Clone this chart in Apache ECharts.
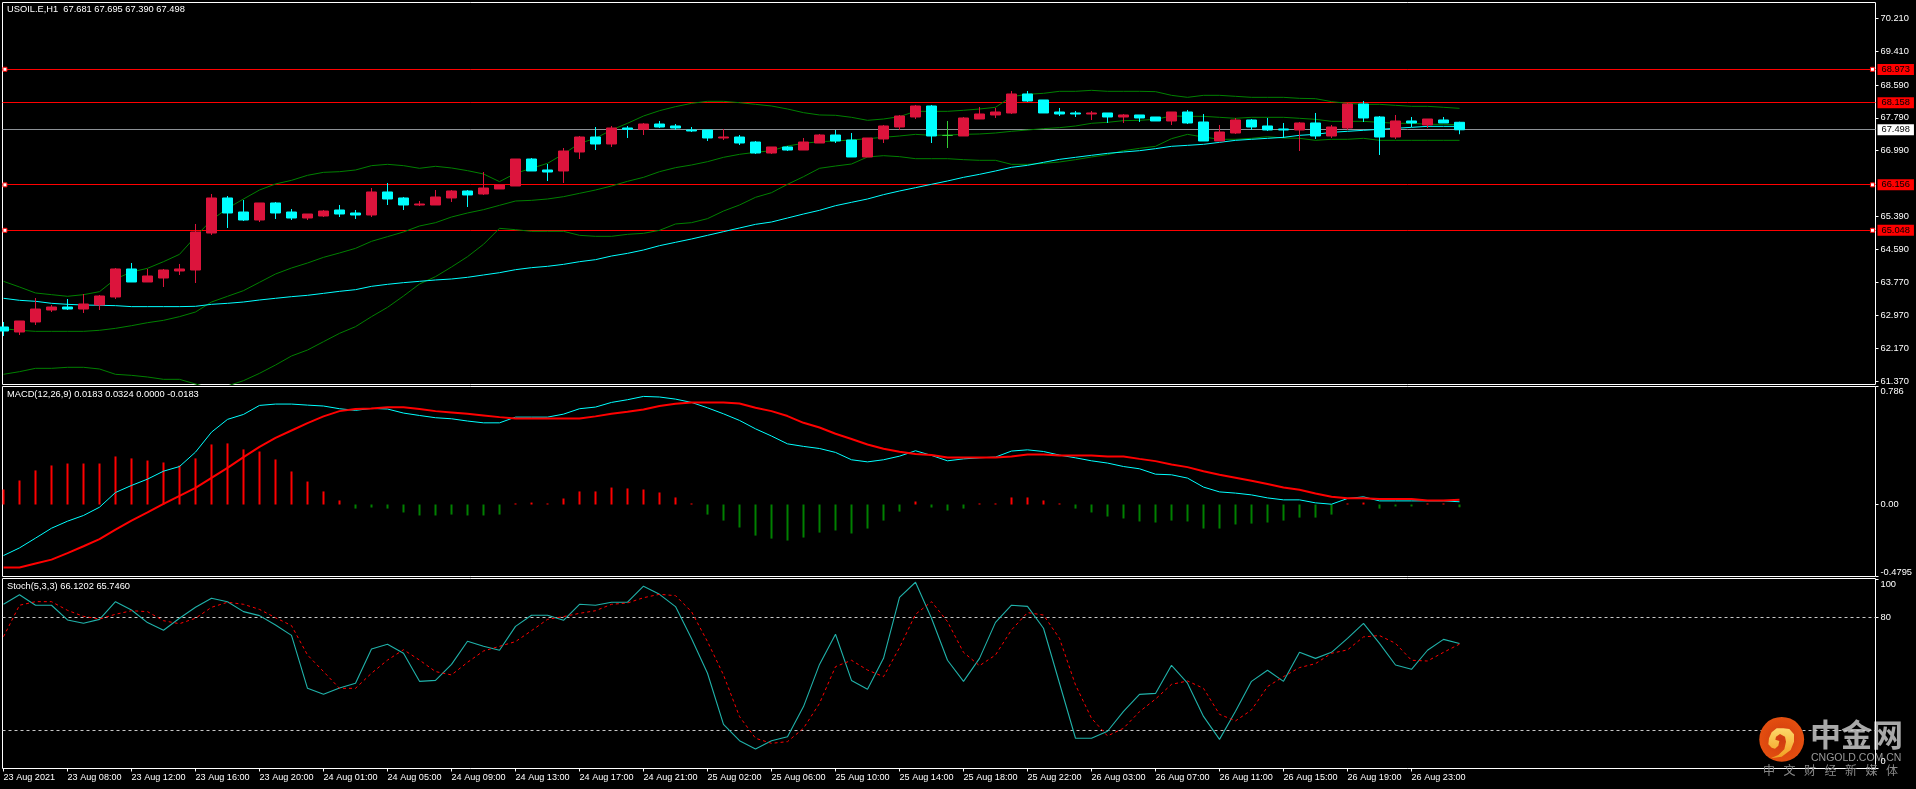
<!DOCTYPE html>
<html>
<head>
<meta charset="utf-8">
<title>USOIL.E H1</title>
<style>
  html, body { margin: 0; padding: 0; background: #000; }
  #chart { width: 1916px; height: 789px; }
</style>
<script src="https://cdn.jsdelivr.net/npm/echarts@6/dist/echarts.min.js"></script>
</head>
<body>
<div id="chart"></div>
<script>
// Hourly USOIL candles, one row of ten values per source line
var opens = [
  62.691,62.569,62.813,63.105,63.178,63.129,63.227,63.422,64.105,63.788,
  63.885,64.056,64.080,64.982,65.836,65.494,65.299,65.714,65.494,65.348,
  65.397,65.543,65.470,65.421,65.982,65.836,65.665,65.665,65.836,66.006,
  65.933,66.055,66.128,66.786,66.518,66.494,66.957,67.322,67.152,67.542,
  67.510,67.639,67.591,67.493,67.493,67.298,67.322,67.200,66.932,67.079,
  67.005,67.176,67.371,67.249,66.835,67.274,67.566,67.810,68.078,67.360,
  67.347,67.761,67.859,67.908,68.371,68.225,67.932,67.908,67.883,67.908,
  67.810,67.859,67.810,67.713,67.932,67.688,67.225,67.420,67.737,67.591,
  67.518,67.493,67.664,67.347,67.542,68.127,67.810,67.322,67.713,67.615,
  67.737,67.681];
var closes = [
  62.593,62.837,63.129,63.178,63.129,63.251,63.446,64.105,63.788,63.934,
  64.080,64.105,65.007,65.836,65.470,65.299,65.714,65.470,65.348,65.445,
  65.518,65.445,65.421,65.982,65.811,65.665,65.689,65.860,66.006,65.909,
  66.079,66.152,66.786,66.494,66.469,66.981,67.322,67.152,67.542,67.510,
  67.639,67.566,67.542,67.469,67.298,67.322,67.176,66.932,67.079,67.005,
  67.200,67.371,67.225,66.835,67.298,67.591,67.834,68.078,67.347,67.360,
  67.786,67.883,67.932,68.371,68.200,67.908,67.883,67.883,67.908,67.810,
  67.859,67.786,67.713,67.932,67.664,67.225,67.444,67.737,67.566,67.493,
  67.493,67.664,67.347,67.566,68.127,67.786,67.322,67.713,67.664,67.761,
  67.664,67.498];
var highs = [
  62.813,62.837,63.398,63.227,63.373,63.495,63.471,64.129,64.251,64.105,
  64.105,64.227,65.202,65.933,65.884,65.787,65.714,65.738,65.567,65.445,
  65.543,65.665,65.543,66.079,66.201,65.860,65.762,66.030,66.030,66.030,
  66.469,66.152,66.786,66.810,66.664,67.054,67.347,67.566,67.591,67.591,
  67.664,67.713,67.639,67.566,67.493,67.518,67.371,67.225,67.079,67.103,
  67.298,67.396,67.493,67.420,67.298,67.615,67.859,68.103,68.103,67.713,
  67.810,68.054,68.030,68.444,68.444,68.225,68.030,67.956,67.956,67.908,
  67.883,67.859,67.810,67.932,67.981,67.883,67.615,67.786,67.761,67.786,
  67.664,67.688,67.908,67.615,68.152,68.200,67.834,67.859,67.810,67.761,
  67.810,67.695];
var lows = [
  62.471,62.496,62.740,63.056,63.105,63.032,63.105,63.373,63.788,63.788,
  63.666,63.958,63.763,64.934,65.104,65.275,65.250,65.324,65.299,65.299,
  65.372,65.372,65.324,65.372,65.665,65.543,65.640,65.665,65.738,65.616,
  65.909,66.055,66.128,66.494,66.250,66.201,66.786,67.005,67.079,67.298,
  67.371,67.542,67.493,67.444,67.225,67.249,67.127,66.908,66.908,66.981,
  67.005,67.176,67.176,66.835,66.835,67.176,67.493,67.761,67.176,67.054,
  67.347,67.761,67.786,67.883,68.176,67.908,67.834,67.810,67.737,67.664,
  67.664,67.688,67.713,67.615,67.639,67.225,67.225,67.396,67.493,67.469,
  67.298,66.981,67.274,67.298,67.493,67.688,66.884,67.274,67.566,67.542,
  67.664,67.390];

// Bollinger bands and moving average on the price panel
var bandUpper = [
  63.804,63.666,63.520,63.479,63.439,63.479,63.552,63.861,64.032,64.121,
  64.283,64.462,64.893,65.299,65.584,65.811,66.030,66.177,66.266,66.388,
  66.461,66.477,66.518,66.624,66.656,66.624,66.559,66.608,66.567,66.502,
  66.421,66.234,66.437,66.559,66.680,66.908,67.168,67.290,67.493,67.656,
  67.834,67.964,68.062,68.143,68.192,68.192,68.159,68.119,68.078,68.005,
  67.916,67.859,67.851,67.802,67.729,67.761,67.818,67.948,67.948,67.948,
  67.973,68.005,68.046,68.306,68.363,68.387,68.436,68.436,68.460,68.436,
  68.436,68.436,68.428,68.338,68.289,68.338,68.338,68.314,68.289,68.289,
  68.289,68.265,68.257,68.184,68.143,68.119,68.119,68.094,68.070,68.070,
  68.046,68.021];
var bandMiddle = [
  62.650,62.610,62.585,62.585,62.585,62.585,62.610,62.658,62.723,62.796,
  62.853,62.943,63.056,63.300,63.439,63.577,63.780,63.983,64.129,64.251,
  64.389,64.495,64.608,64.779,64.893,65.007,65.153,65.234,65.372,65.470,
  65.551,65.657,65.762,65.778,65.811,65.868,65.949,66.030,66.128,66.242,
  66.339,66.477,66.575,66.640,66.721,66.827,66.900,66.949,66.989,67.103,
  67.168,67.209,67.225,67.249,67.282,67.314,67.347,67.387,67.363,67.371,
  67.387,67.396,67.420,67.461,67.493,67.526,67.550,67.591,67.656,67.680,
  67.721,67.729,67.753,67.834,67.826,67.826,67.802,67.778,67.802,67.802,
  67.802,67.778,67.753,67.704,67.704,67.704,67.680,67.656,67.656,67.631,
  67.631,67.623];
var bandLower = [
  61.537,61.602,61.683,61.683,61.708,61.708,61.667,61.537,61.512,61.472,
  61.415,61.415,61.301,61.196,61.253,61.383,61.561,61.764,61.984,62.130,
  62.333,62.536,62.699,62.943,63.170,63.446,63.739,63.918,64.154,64.405,
  64.706,65.096,65.063,65.023,65.023,65.023,64.925,64.901,64.901,64.950,
  64.974,65.047,65.202,65.234,65.332,65.518,65.665,65.852,65.965,66.169,
  66.355,66.559,66.615,66.664,66.835,66.867,66.843,66.794,66.794,66.794,
  66.770,66.754,66.754,66.656,66.656,66.680,66.713,66.770,66.835,66.892,
  66.989,67.046,67.095,67.282,67.387,67.322,67.266,67.266,67.290,67.331,
  67.298,67.290,67.241,67.266,67.266,67.290,67.241,67.241,67.241,67.241,
  67.241,67.241];
var movingAverage = [
  63.390,63.341,63.317,63.268,63.243,63.227,63.219,63.211,63.187,63.187,
  63.187,63.187,63.195,63.243,63.268,63.300,63.349,63.390,63.430,63.463,
  63.511,63.560,63.601,63.682,63.731,63.772,63.804,63.837,63.861,63.902,
  63.959,64.015,64.088,64.137,64.170,64.218,64.283,64.332,64.421,64.486,
  64.568,64.673,64.755,64.836,64.925,65.015,65.104,65.193,65.250,65.348,
  65.445,65.535,65.648,65.730,65.811,65.917,66.006,66.087,66.169,66.250,
  66.339,66.412,66.494,66.583,66.632,66.705,66.778,66.827,66.876,66.924,
  66.957,66.989,67.038,67.095,67.119,67.144,67.192,67.241,67.266,67.290,
  67.314,67.363,67.387,67.436,67.461,67.485,67.510,67.534,67.558,67.582,
  67.582,67.582];

// MACD(12,26,9)
var macdMain = [
  -0.340,-0.289,-0.224,-0.158,-0.111,-0.073,-0.018,0.080,0.127,0.169,
  0.222,0.253,0.349,0.482,0.567,0.600,0.660,0.669,0.669,0.662,
  0.656,0.638,0.627,0.640,0.636,0.609,0.593,0.578,0.571,0.556,
  0.544,0.544,0.582,0.582,0.582,0.602,0.638,0.649,0.680,0.698,
  0.720,0.716,0.702,0.680,0.644,0.604,0.560,0.504,0.456,0.404,
  0.387,0.373,0.347,0.298,0.284,0.298,0.322,0.358,0.327,0.291,
  0.304,0.311,0.316,0.356,0.364,0.353,0.329,0.311,0.291,0.276,
  0.253,0.238,0.202,0.198,0.176,0.116,0.084,0.076,0.064,0.044,
  0.031,0.031,0.011,0.002,0.040,0.051,0.024,0.024,0.024,0.024,
  0.024,0.0183];
var macdSignal = [
  -0.420,-0.420,-0.393,-0.367,-0.324,-0.278,-0.231,-0.167,-0.107,-0.053,
  0.004,0.058,0.111,0.178,0.244,0.316,0.384,0.444,0.493,0.542,
  0.587,0.622,0.636,0.640,0.647,0.647,0.636,0.622,0.613,0.604,
  0.593,0.582,0.573,0.573,0.573,0.573,0.573,0.587,0.604,0.618,
  0.633,0.656,0.671,0.680,0.680,0.680,0.673,0.644,0.622,0.589,
  0.544,0.513,0.471,0.436,0.400,0.371,0.351,0.336,0.329,0.313,
  0.313,0.313,0.313,0.320,0.333,0.333,0.327,0.327,0.327,0.320,
  0.320,0.304,0.289,0.267,0.249,0.222,0.198,0.178,0.158,0.136,
  0.113,0.098,0.073,0.051,0.042,0.042,0.036,0.036,0.036,0.027,
  0.027,0.0324];
var macdHistogram = [
  0.100,0.160,0.227,0.260,0.273,0.273,0.273,0.320,0.307,0.293,
  0.280,0.260,0.307,0.400,0.407,0.367,0.353,0.300,0.220,0.153,
  0.087,0.027,-0.027,-0.020,-0.027,-0.053,-0.073,-0.073,-0.067,-0.073,
  -0.073,-0.067,0.007,0.013,0.007,0.040,0.087,0.087,0.113,0.107,
  0.100,0.080,0.047,0.007,-0.067,-0.107,-0.153,-0.207,-0.227,-0.240,
  -0.220,-0.187,-0.173,-0.193,-0.160,-0.107,-0.047,0.020,-0.020,-0.040,
  -0.027,0.007,0.007,0.047,0.047,0.027,0.007,-0.027,-0.053,-0.080,
  -0.093,-0.113,-0.120,-0.107,-0.113,-0.160,-0.160,-0.133,-0.127,-0.120,
  -0.107,-0.087,-0.087,-0.067,0.007,0.013,-0.027,-0.013,-0.013,0.007,
  0.007,-0.0183];

// Stochastic(5,3,3)
var stochMain = [
  86.9,92.0,86.4,86.4,78.6,76.8,78.9,88.3,83.9,77.2,
  73.1,79.5,85.3,90.1,88.3,83.0,80.9,75.9,70.4,42.3,
  39.1,42.5,45.0,63.2,65.7,60.9,46.0,46.5,55.0,67.3,
  64.6,62.5,75.2,81.1,81.1,78.4,86.9,86.4,88.0,88.0,
  96.5,92.2,85.7,68.8,50.3,23.2,14.5,10.1,14.5,16.6,
  32.6,55.0,71.0,46.5,41.8,58.2,90.6,98.6,79.5,57.2,
  46.0,58.2,77.3,86.4,85.8,74.2,45.0,15.8,15.8,19.5,
  30.1,39.1,39.6,54.5,45.0,27.4,15.2,30.1,46.0,51.9,
  46.0,61.4,58.2,61.4,68.8,76.8,66.2,54.7,52.4,62.5,
  68.3,66.1202];
var stochSignal = [
  69.7,86.4,88.3,88.3,83.7,80.5,79.1,81.6,83.5,83.0,
  78.2,76.6,79.5,85.3,88.0,86.9,84.2,79.8,75.6,60.0,
  51.2,42.3,42.3,50.3,57.3,62.8,57.3,51.2,49.4,56.1,
  62.1,64.6,67.1,72.9,78.9,80.4,82.1,83.5,86.9,87.6,
  90.4,92.2,91.5,83.0,67.1,49.4,27.3,15.8,13.1,14.0,
  21.1,34.3,53.8,57.2,52.0,48.5,63.9,81.6,88.3,77.7,
  61.4,54.3,60.0,73.3,82.5,81.2,68.8,44.1,26.4,17.0,
  21.1,29.9,36.6,44.4,46.2,42.3,28.5,25.0,30.8,43.2,
  48.5,53.3,55.4,60.9,62.7,69.6,70.3,66.2,57.2,56.8,
  61.4,65.746];

// Axis ticks and labels
var timeLabels = ['23 Aug 2021','23 Aug 08:00','23 Aug 12:00','23 Aug 16:00','23 Aug 20:00',
  '24 Aug 01:00','24 Aug 05:00','24 Aug 09:00','24 Aug 13:00','24 Aug 17:00','24 Aug 21:00',
  '25 Aug 02:00','25 Aug 06:00','25 Aug 10:00','25 Aug 14:00','25 Aug 18:00','25 Aug 22:00',
  '26 Aug 03:00','26 Aug 07:00','26 Aug 11:00','26 Aug 15:00','26 Aug 19:00','26 Aug 23:00'];
var timeLabelStep = 4;
var priceTicks = [70.21,69.41,68.59,67.79,66.99,65.39,64.59,63.77,62.97,62.17,61.37];
var macdTicks = [-0.4795,0,0.786];
var macdTickLabels = ['-0.4795','0.00','0.786'];
var stochTicks = [0,80,100];

// Horizontal levels; the last one follows the current bid
var selectedLevels = [68.973,66.156,65.048];
var plainLevels = [68.158];
var bidLevel = 67.498;
var stochLevels = [80,20];

var FONT = '"Liberation Sans", Arial, sans-serif';
var FONT_SIZE = 9.3;
var TIME_FONT_SIZE = 9.1;
var XMIN = -0.0625, XMAX = 117;
var UP = '#DC143C', DOWN = '#00FFFF', DOJI = '#32CD32', BAND = '#008000', RED = '#FF0000';

function pairs(values) { return values.map(function (v, i) { return [i, v]; }); }

var candleData = opens.map(function (o, i) {
  var item = { value: [i, o, closes[i], lows[i], highs[i]] };
  if (o === closes[i]) {
    item.itemStyle = { color: DOJI, color0: DOJI, borderColor: DOJI, borderColor0: DOJI, borderColorDoji: DOJI };
  }
  return item;
});

var timeTicks = timeLabels.map(function (_, i) { return i * timeLabelStep; });

function hiddenX(gridIndex) {
  return { type: 'value', gridIndex: gridIndex, min: XMIN, max: XMAX, show: false, splitLine: { show: false },
    axisLine: { onZero: false } };
}
function rightAxis(gridIndex, min, max, ticks, formatter, extraLabel) {
  return {
    type: 'value', gridIndex: gridIndex, position: 'right', min: min, max: max, scale: true,
    splitLine: { show: false },
    axisLine: { show: false, onZero: false },
    axisTick: { show: true, length: 3, customValues: ticks, lineStyle: { color: '#fff', width: 1 } },
    axisLabel: Object.assign({
      show: true, customValues: ticks, inside: false, margin: 5, color: '#fff',
      fontFamily: FONT, fontSize: FONT_SIZE, formatter: formatter, hideOverlap: false
    }, extraLabel || {})
  };
}
function levelLine(value, color, labelBg, labelColor) {
  return {
    yAxis: value,
    lineStyle: { color: color, width: 1, type: 'solid' },
    label: {
      show: true, position: 'end', distance: 2, formatter: value.toFixed(3),
      color: labelColor, backgroundColor: labelBg, padding: [1, 4, 1, 4], lineHeight: 9,
      fontFamily: FONT, fontSize: FONT_SIZE
    }
  };
}
function thinLine(name, values, color, width, xIdx, yIdx, dash, z) {
  return {
    name: name, type: 'line', xAxisIndex: xIdx, yAxisIndex: yIdx, data: pairs(values),
    symbol: 'none', silent: true, animation: false, z: z,
    lineStyle: { color: color, width: width, type: dash || 'solid' }
  };
}

var panelTexts = [
  { text: 'USOIL.E,H1  67.681 67.695 67.390 67.498', y: 5 },
  { text: 'MACD(12,26,9) 0.0183 0.0324 0.0000 -0.0183', y: 390 },
  { text: 'Stoch(5,3,3) 66.1202 65.7460', y: 582 }
];

// Brand swirl outline, placed inside the disc
var swirlOutline = [[57,100],[65,82],[80,70],[100,70],[118,72],[132,88],[132,110],[122,135],[95,155],[62,160],
  [85,150],[103,133],[108,110],[105,95],[90,87],[78,95],[76,104],[88,108],[85,122],[75,131],[65,128],[55,118]];

var logo = [
  { type: 'circle', z: 20, shape: { cx: 1781.7, cy: 739.3, r: 22.4 },
    style: { fill: { type: 'radial', x: 0.5, y: 0.5, r: 0.6,
      colorStops: [{ offset: 0, color: '#cf3a10' }, { offset: 1, color: '#e8530f' }] } } },
  { type: 'polygon', z: 21,
    shape: { points: swirlOutline.map(function (p) { return [1750 + p[0] / 3, 705 + p[1] / 3]; }) },
    style: { fill: { type: 'linear', x: 0, y: 0, x2: 0, y2: 1,
      colorStops: [{ offset: 0, color: '#fcd86a' }, { offset: 0.6, color: '#f7b53d' }, { offset: 1, color: '#f0a020' }] } } },
  { type: 'text', z: -1, x: 1810, y: 719, style: { text: '中金网', fill: '#a9a9a9',
      font: 'bold 31px "Noto Sans CJK SC"' } },
  { type: 'text', z: -1, x: 1811, y: 752.5, style: { text: 'CNGOLD.COM.CN', fill: '#999999',
      font: '10.5px "Liberation Sans"' } }
].concat('中文财经新媒体'.split('').map(function (ch, i) {
  return { type: 'text', z: 20, x: 1763 + i * 20.5, y: 764.5,
    style: { text: ch, fill: '#8a8a8a', font: '12px "Noto Sans CJK SC"' } };
}));

var option = {
  animation: false,
  backgroundColor: '#000',
  graphic: panelTexts.map(function (t) {
    return { type: 'text', x: 7, y: t.y, z: 30,
      style: { text: t.text, fill: '#fff', font: FONT_SIZE + 'px ' + FONT } };
  }).concat(logo),
  grid: [
    { left: 2.5, top: 2.5, width: 1873, height: 382, show: true, borderColor: '#fff', borderWidth: 1, backgroundColor: 'transparent' },
    { left: 2.5, top: 386.5, width: 1873, height: 190, show: true, borderColor: '#fff', borderWidth: 1, backgroundColor: 'transparent' },
    { left: 2.5, top: 578.5, width: 1873, height: 190, show: true, borderColor: '#fff', borderWidth: 1, backgroundColor: 'transparent' }
  ],
  xAxis: [
    hiddenX(0),
    hiddenX(1),
    {
      type: 'value', gridIndex: 2, min: XMIN, max: XMAX,
      splitLine: { show: false }, axisLine: { show: false, onZero: false },
      axisTick: { show: true, length: 3, customValues: timeTicks, lineStyle: { color: '#fff' } },
      axisLabel: {
        show: true, customValues: timeTicks, color: '#fff', margin: 4, align: 'left', hideOverlap: false,
        fontFamily: FONT, fontSize: TIME_FONT_SIZE,
        formatter: function (v) { return timeLabels[v / timeLabelStep]; }
      }
    }
  ],
  yAxis: [
    rightAxis(0, 61.289, 70.601, priceTicks, function (v) { return v.toFixed(3); }),
    rightAxis(1, -0.4795, 0.786, macdTicks, function (v) { return macdTickLabels[macdTicks.indexOf(v)]; },
      { verticalAlignMinLabel: 'bottom', verticalAlignMaxLabel: 'top' }),
    rightAxis(2, -0.265, 100.6, stochTicks, function (v) { return v === 100 ? '{top|100}' : (v === 0 ? '{bottom|0}' : String(v)); },
      { rich: {
        top: { padding: [10, 0, 0, 0], color: '#fff', fontFamily: FONT, fontSize: FONT_SIZE },
        bottom: { padding: [0, 0, 14, 0], color: '#fff', fontFamily: FONT, fontSize: FONT_SIZE }
      } })
  ],
  series: [
    Object.assign(thinLine('Upper band', bandUpper, BAND, 1, 0, 0, null, 2), {
      markLine: {
        silent: true, symbol: 'none', animation: false, z: 1,
        data: selectedLevels.map(function (v) { return levelLine(v, RED, RED, '#000'); })
          .concat(plainLevels.map(function (v) { return levelLine(v, RED, RED, '#000'); }))
          .concat([levelLine(bidLevel, '#8C9196', '#fff', '#000')])
      }
    }),
    thinLine('Middle band', bandMiddle, BAND, 1, 0, 0, null, 2),
    thinLine('Lower band', bandLower, BAND, 1, 0, 0, null, 2),
    thinLine('Moving average', movingAverage, DOWN, 1, 0, 0, null, 3),
    {
      name: 'USOIL.E', type: 'candlestick', xAxisIndex: 0, yAxisIndex: 0, z: 5,
      barWidth: 10, silent: true, animation: false, data: candleData,
      encode: { x: 0, y: [1, 2, 3, 4] },
      itemStyle: { color: UP, color0: DOWN, borderColor: UP, borderColor0: DOWN, borderWidth: 1 }
    },
    {
      name: 'Level handles', type: 'scatter', xAxisIndex: 0, yAxisIndex: 0, z: 6, silent: true,
      symbol: 'rect', symbolSize: 4, clip: false,
      itemStyle: { color: '#fff', borderColor: RED, borderWidth: 1, opacity: 1 },
      data: selectedLevels.reduce(function (acc, v) { return acc.concat([[0.09, v], [116.81, v]]); }, [])
    },
    {
      name: 'MACD histogram', type: 'bar', xAxisIndex: 1, yAxisIndex: 1, barWidth: 2, silent: true, animation: false, z: 2,
      data: pairs(macdHistogram).map(function (p) {
        return { value: p, itemStyle: { color: p[1] >= 0 ? RED : BAND } };
      })
    },
    thinLine('MACD', macdMain, DOWN, 1, 1, 1, null, 3),
    thinLine('Signal', macdSignal, RED, 2, 1, 1, null, 4),
    Object.assign(thinLine('Stoch', stochMain, '#20B2AA', 1.1, 2, 2, null, 3), {
      markLine: {
        silent: true, symbol: 'none', animation: false, z: 1, label: { show: false },
        data: stochLevels.map(function (v) {
          return { yAxis: v, lineStyle: { color: '#C8C8C8', width: 1, type: [3, 3] } };
        })
      }
    }),
    thinLine('Stoch signal', stochSignal, RED, 1, 2, 2, [3, 3], 4)
  ]
};

echarts.init(document.getElementById('chart'), null, { renderer: 'canvas' }).setOption(option);
</script>
</body>
</html>
